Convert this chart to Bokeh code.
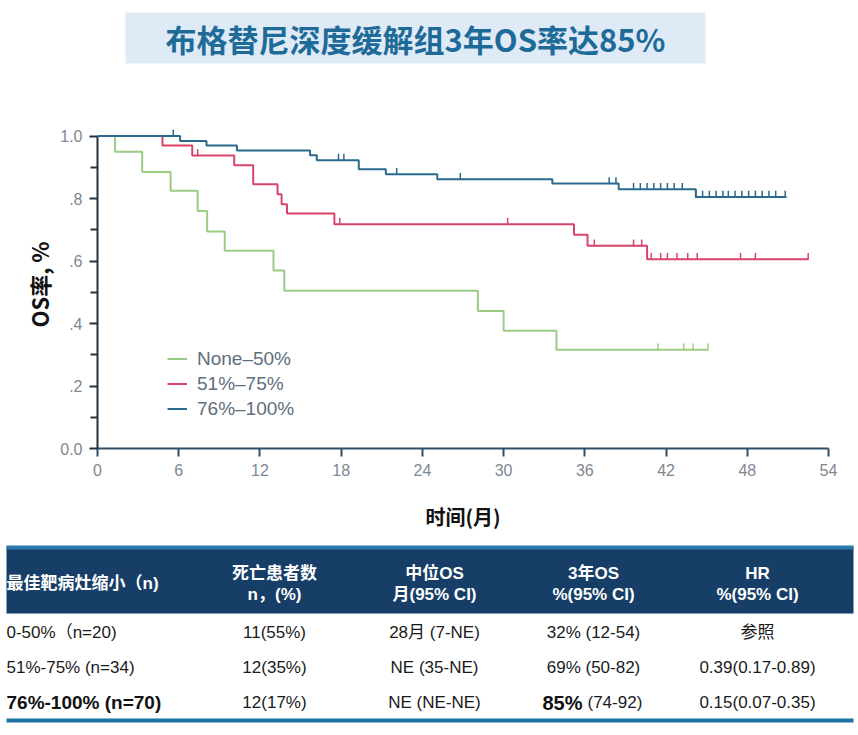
import numpy as np
from bokeh.plotting import figure
from bokeh.layouts import column
from bokeh.models import FixedTicker, Legend, LegendItem, Range1d
from bokeh.core.properties import value
from bokeh.embed import file_html
from bokeh.resources import INLINE

# ---------------- data ----------------
title_text = "布格替尼深度缓解组3年OS率达85%"
x_ticks = [0, 6, 12, 18, 24, 30, 36, 42, 48, 54]
y_ticks = [0.0, 0.2, 0.4, 0.6, 0.8, 1.0]
y_minor = [0.1, 0.3, 0.5, 0.7, 0.9]
y_tick_labels = ["0.0", ".2", ".4", ".6", ".8", "1.0"]
x_label = "时间(月)"
y_label = "OS率, %"
series_names = ["None–50%", "51%–75%", "76%–100%"]

green_t = [0, 1.3, 3.3, 5.4, 7.4, 8.1, 9.4, 13.0, 13.8, 28.1, 30.0, 33.9, 45.1]
green_s = [1.0, 0.95, 0.885, 0.825, 0.76, 0.695, 0.633, 0.57, 0.505, 0.44, 0.377, 0.316, 0.316]
green_c = [41.4, 43.3, 44.0, 45.1]

red_t = [0, 4.8, 7.0, 10.1, 11.5, 13.3, 13.6, 14.0, 17.5, 35.2, 36.2, 40.6, 52.5]
red_s = [1.0, 0.97, 0.938, 0.907, 0.846, 0.814, 0.782, 0.752, 0.718, 0.684, 0.649, 0.606, 0.606]
red_c = [7.4, 17.9, 30.3, 36.7, 39.6, 40.2, 40.9, 41.6, 42.1, 42.8, 43.6, 44.3, 47.5, 48.6, 52.5]

blue_t = [0, 6.1, 8.05, 10.3, 15.7, 16.2, 19.3, 21.3, 25.1, 33.6, 38.5, 44.2, 50.9]
blue_s = [1.0, 0.984, 0.970, 0.954, 0.939, 0.923, 0.894, 0.878, 0.862, 0.848, 0.830, 0.805, 0.805]
blue_c = [5.6, 17.8, 18.2, 22.1, 26.8, 37.8, 38.3, 39.6, 40.1, 40.6, 41.1, 41.6, 42.1,
          42.6, 43.2, 44.2, 44.7, 45.2, 45.7, 46.2, 46.6, 47.1, 47.6, 48.1, 48.6,
          49.1, 49.6, 50.1, 50.8]

table_header_1 = ["最佳靶病灶缩小（n)", "死亡患者数", "中位OS", "3年OS", "HR"]
table_header_2 = ["", "n，(%)", "月(95% CI)", "%(95% CI)", "%(95% CI)"]
table_groups = ["0-50%（n=20)", "51%-75% (n=34)", "76%-100% (n=70)"]
table_deaths = ["11(55%)", "12(35%)", "12(17%)"]
table_median = ["28月 (7-NE)", "NE (35-NE)", "NE (NE-NE)"]
table_os3 = ["32% (12-54)", "69% (50-82)", "85% (74-92)"]
table_hr = ["参照", "0.39(0.17-0.89)", "0.15(0.07-0.35)"]

# ---------------- styles ----------------
W = 858
CJK = value("Noto Sans CJK SC")
MIX = value("Liberation Sans, Noto Sans CJK SC")
colors = ["#9ccc84", "#d8436a", "#2b6a8e"]


def blank(height, y_top, y_bottom):
    f = figure(width=W, height=height, x_range=Range1d(0, W),
               y_range=Range1d(y_bottom, y_top), toolbar_location=None,
               output_backend="svg", min_border=0, frame_align=False)
    f.axis.visible = False
    f.grid.visible = False
    f.outline_line_color = None
    return f


# ---------------- title ----------------
pt = blank(100, 0, 100)
pt.quad(left=[125], right=[705], top=[12], bottom=[63], fill_color="#deeaf6", line_color=None)
pt.text(x=[415], y=[38], text=[title_text], text_align="center", text_baseline="middle",
        text_font=CJK, text_font_style="bold", text_font_size="31px", text_color="#1e6b98")

# ---------------- KM plot ----------------
p = figure(width=W, height=440, x_range=Range1d(0, 54), y_range=Range1d(0, 1.05),
           toolbar_location=None, output_backend="svg", frame_align=False,
           min_border_left=97, min_border_right=30, min_border_top=20, min_border_bottom=92)
p.grid.visible = False
p.outline_line_color = None

items = []
for name, col, t, s, c in zip(series_names, colors,
                              [green_t, red_t, blue_t], [green_s, red_s, blue_s],
                              [green_c, red_c, blue_c]):
    ta = np.array(t)
    sa = np.array(s)
    ca = np.array(c)
    idx = np.searchsorted(ta, ca, side="right") - 1
    cy = sa[idx] + 0.009
    r1 = p.step(ta, sa, mode="after", line_color=col, line_width=2)
    r2 = p.scatter(ca, cy, marker="dash", angle=np.pi / 2, size=7, line_color=col, line_width=1.5)
    items.append(LegendItem(label=name, renderers=[r1, r2]))

legend = Legend(items=items, location=(70, 27), glyph_width=20, glyph_height=25,
                label_height=25, label_standoff=10, spacing=0, padding=0, margin=0,
                border_line_color=None, background_fill_alpha=0,
                label_text_font="Liberation Sans", label_text_font_size="19px",
                label_text_color="#5f6e7d")
p.add_layout(legend)

xa = p.xaxis[0]
xa.ticker = FixedTicker(ticks=x_ticks)
xa.bounds = (0, 54)
xa.axis_line_color = "#2f4f68"
xa.axis_line_width = 2
xa.major_tick_line_color = "#2f4f68"
xa.major_tick_line_width = 2
xa.major_tick_out = 8
xa.major_tick_in = 0
xa.minor_tick_line_color = None
xa.major_label_standoff = 7
xa.major_label_text_font = "Liberation Sans"
xa.major_label_text_font_size = "16px"
xa.major_label_text_color = "#7f8792"
xa.axis_label = x_label
xa.axis_label_text_font = "Noto Sans CJK SC"
xa.axis_label_text_font_style = "bold"
xa.axis_label_text_font_size = "20px"
xa.axis_label_text_color = "#111111"
xa.axis_label_standoff = 23

ya = p.yaxis[0]
ya.ticker = FixedTicker(ticks=y_ticks, minor_ticks=y_minor)
ya.bounds = (0, 1)
ya.major_label_overrides = {v: lab for v, lab in zip(y_ticks, y_tick_labels)}
ya.axis_line_color = "#25323d"
ya.axis_line_width = 2
ya.major_tick_line_color = "#25323d"
ya.major_tick_line_width = 2
ya.major_tick_out = 8
ya.major_tick_in = 0
ya.minor_tick_line_color = "#25323d"
ya.minor_tick_line_width = 2
ya.minor_tick_out = 7
ya.minor_tick_in = 0
ya.major_label_standoff = 7
ya.major_label_text_font = "Liberation Sans"
ya.major_label_text_font_size = "16px"
ya.major_label_text_color = "#7f8792"
ya.axis_label = y_label
ya.axis_label_text_font = "Noto Sans CJK SC"
ya.axis_label_text_font_style = "bold"
ya.axis_label_text_font_size = "22px"
ya.axis_label_text_color = "#111111"
ya.axis_label_standoff = 2

# ---------------- table ----------------
tb = blank(195, 540, 735)
tb.quad(left=[6], right=[853], top=[546], bottom=[613], fill_color="#163e66", line_color=None)
tb.quad(left=[6], right=[853], top=[545], bottom=[549], fill_color="#2a79ad", line_color=None)
tb.quad(left=[6], right=[853], top=[718], bottom=[722], fill_color="#1f72a6", line_color=None)

col_x = [274, 434, 593, 757]
hdr = dict(text_font=MIX, text_font_style="bold", text_font_size="17px",
           text_color="#ffffff", text_baseline="middle")
tb.text(x=[6], y=[583], text=[table_header_1[0]], text_align="left", **hdr)
tb.text(x=col_x, y=[573] * 4, text=table_header_1[1:], text_align="center", **hdr)
tb.text(x=col_x, y=[594] * 4, text=table_header_2[1:], text_align="center", **hdr)

row_y = [632, 667, 702]
cell = dict(text_font=MIX, text_font_size="17px", text_color="#1a1a1a", text_baseline="middle")
tb.text(x=[6, 6], y=row_y[:2], text=table_groups[:2], text_align="left", **cell)
tb.text(x=[6], y=[row_y[2]], text=[table_groups[2]], text_align="left", text_font=MIX,
        text_font_style="bold", text_font_size="19px", text_color="#111111", text_baseline="middle")
tb.text(x=[col_x[0]] * 3, y=row_y, text=table_deaths, text_align="center", **cell)
tb.text(x=[col_x[1]] * 3, y=row_y, text=table_median, text_align="center", **cell)
tb.text(x=[col_x[2]] * 2, y=row_y[:2], text=table_os3[:2], text_align="center", **cell)
big, rest = table_os3[2].split(" ", 1)
tb.text(x=[582], y=[row_y[2]], text=[big], text_align="right", text_font=MIX,
        text_font_style="bold", text_font_size="20px", text_color="#111111", text_baseline="middle")
tb.text(x=[587], y=[row_y[2]], text=[rest], text_align="left", **cell)
tb.text(x=[col_x[3]] * 3, y=row_y, text=table_hr, text_align="center", **cell)

layout = column(pt, p, tb, spacing=0)
open("out.html", "w").write(file_html(layout, INLINE))
